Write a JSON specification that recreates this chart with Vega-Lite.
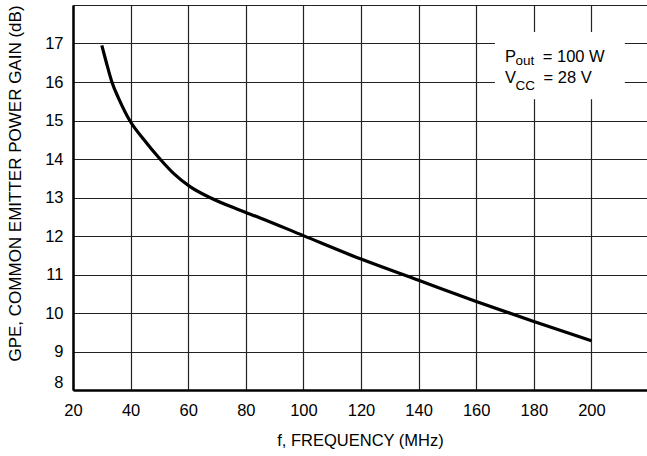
{
  "$schema": "https://vega.github.io/schema/vega-lite/v6.json",
  "width": 574,
  "height": 385,
  "autosize": {"type": "none"},
  "padding": {"left": 73, "top": 5, "right": 0, "bottom": 66},
  "background": "white",
  "config": {"view": {"stroke": null}, "font": "Liberation Sans, Arial"},
  "datasets": {
    "curve": [
      {"f": 30, "g": 16.95},
      {"f": 31.6, "g": 16.5},
      {"f": 33.5, "g": 16.0},
      {"f": 36.0, "g": 15.55},
      {"f": 39.7, "g": 15.0},
      {"f": 44.3, "g": 14.53},
      {"f": 50.2, "g": 14.0},
      {"f": 55, "g": 13.62},
      {"f": 60.5, "g": 13.29},
      {"f": 67.5, "g": 13.0},
      {"f": 78, "g": 12.67},
      {"f": 85, "g": 12.47},
      {"f": 100, "g": 12.01},
      {"f": 120, "g": 11.4},
      {"f": 140, "g": 10.85},
      {"f": 160, "g": 10.3},
      {"f": 180, "g": 9.78},
      {"f": 200, "g": 9.28}
    ],
    "box": [{"f": 166.5, "f2": 211.6, "g": 17.3, "g2": 15.55}],
    "annMain": [
      {"t": "P", "f": 170.0, "g": 16.52},
      {"t": "= 100 W", "f": 183.1, "g": 16.52},
      {"t": "V", "f": 170.0, "g": 15.97},
      {"t": "= 28 V", "f": 183.4, "g": 15.97}
    ],
    "annSub": [
      {"t": "out", "f": 173.6, "g": 16.45},
      {"t": "CC", "f": 173.6, "g": 15.79}
    ]
  },
  "encoding": {
    "x": {
      "field": "f",
      "type": "quantitative",
      "scale": {"domain": [20, 219.3], "nice": false, "zero": false},
      "axis": {
        "values": [20, 40, 60, 80, 100, 120, 140, 160, 180, 200],
        "title": "f, FREQUENCY (MHz)",
        "grid": true,
        "gridColor": "#222222",
        "gridWidth": 1.2,
        "domainColor": "black",
        "domainWidth": 2.5,
        "ticks": false,
        "tickSize": 0,
        "labelFontSize": 16.5,
        "labelColor": "black",
        "labelPadding": 25,
        "labelBaseline": "alphabetic",
        "labelFlush": false,
        "labelOverlap": false,
        "titleFontSize": 16.5,
        "titleFontWeight": "normal",
        "titleColor": "black",
        "titleY": 55.7,
        "titleBaseline": "alphabetic"
      }
    },
    "y": {
      "field": "g",
      "type": "quantitative",
      "scale": {"domain": [8, 18], "nice": false, "zero": false},
      "axis": {
        "values": [8, 9, 10, 11, 12, 13, 14, 15, 16, 17, 18],
        "labelExpr": "datum.value == 18 ? '' : datum.label",
        "title": "GPE, COMMON EMITTER POWER GAIN (dB)",
        "grid": true,
        "gridColor": "#222222",
        "gridWidth": 1.2,
        "domainColor": "black",
        "domainWidth": 2.5,
        "ticks": false,
        "tickSize": 0,
        "labelFontSize": 16.5,
        "labelColor": "black",
        "labelPadding": 10,
        "labelFlush": true,
        "labelOverlap": false,
        "titleFontSize": 17,
        "titleFontWeight": "normal",
        "titleColor": "black",
        "titleAngle": -90,
        "titleX": -53,
        "titleY": 178,
        "titleAlign": "center",
        "titleBaseline": "alphabetic"
      }
    }
  },
  "layer": [
    {
      "data": {"name": "box"},
      "mark": {"type": "rect", "fill": "white"},
      "encoding": {"x2": {"field": "f2"}, "y2": {"field": "g2"}}
    },
    {
      "data": {"name": "curve"},
      "mark": {"type": "line", "color": "black", "strokeWidth": 3.2, "interpolate": "monotone"}
    },
    {
      "data": {"name": "annMain"},
      "mark": {"type": "text", "align": "left", "baseline": "alphabetic", "fontSize": 16.5, "color": "black"},
      "encoding": {"text": {"field": "t"}}
    },
    {
      "data": {"name": "annSub"},
      "mark": {"type": "text", "align": "left", "baseline": "alphabetic", "fontSize": 13.5, "color": "black"},
      "encoding": {"text": {"field": "t"}}
    }
  ]
}
